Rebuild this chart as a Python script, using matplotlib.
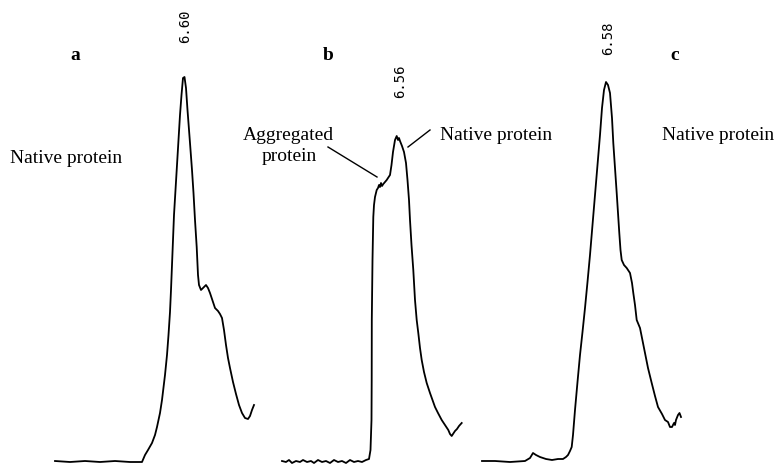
import matplotlib
matplotlib.use("Agg")
import matplotlib.pyplot as plt
from matplotlib.patches import Rectangle

# Trace a (x position, detector trace in image units, top = 0)
a_x = [55, 70, 85, 100, 115, 130, 142, 145, 148, 152, 155, 157, 160, 162, 165, 167, 168.5,
       170, 171, 172, 173, 174, 175.5, 177, 178.5, 180, 181.5, 183, 184.5, 186, 187.5, 190,
       192, 193.5, 195, 196.7, 198, 199, 201, 203, 206, 208, 210, 213, 215, 218, 220, 222,
       224, 226, 228, 230, 233, 236, 239, 242, 245, 248, 250, 252, 254]
a_y = [461, 462, 461, 462, 461, 462, 462, 455, 450, 443, 435, 427, 413, 400, 375, 355, 335,
       312, 290, 265, 240, 215, 190, 165, 140, 115, 95, 78, 77, 88, 110, 143,
       170, 193, 220, 247, 275, 285, 290, 288, 285, 288, 293, 302, 308, 311, 314, 318,
       330, 345, 358, 368, 382, 394, 405, 413, 418, 419, 416, 410, 405]

# Trace b
b_x = [282, 286, 289, 292, 296, 300, 303, 307, 311, 314, 318, 322, 326, 330, 334, 338, 342,
       346, 350, 354, 358, 362, 366, 369, 370.5, 371.5, 371.7, 371.8, 372.5, 373.3, 374, 375,
       376.7, 378, 379, 380, 381, 382, 383.3, 385, 386.7, 388, 390, 391.5, 393, 395, 396.7,
       398, 399, 400, 402, 404, 406, 407.5, 409, 410, 411.5, 413.3, 415, 416.7, 418.3, 420,
       421.7, 424, 426.7, 430, 432.5, 435, 438, 441.7, 445, 448.3, 450, 451.7, 453, 455, 457,
       459, 461.7]
b_y = [461, 462, 460, 463, 461, 462, 460, 462, 461, 463, 460, 462, 461, 463, 460, 462, 461,
       463, 460, 462, 461, 462, 460, 459, 450, 420, 380, 320, 260, 217, 205, 197,
       190, 188, 185, 187, 183, 186, 184, 182, 180, 178, 175, 165, 152, 140, 136,
       140, 138, 141, 146, 152, 163, 180, 200, 220, 245, 270, 300, 320, 333, 348,
       360, 372, 383, 393, 400, 407, 413, 420, 425, 430, 434, 436, 434, 431, 429,
       426, 423]

# Trace c
c_x = [482, 495, 510, 525, 530, 533, 536, 540, 546, 552, 558, 563, 566, 568, 570, 571.7, 573,
       575, 577.5, 580, 582.5, 585, 587.5, 590, 592.5, 595, 597.5, 600, 602, 604, 606, 608,
       610, 612, 613.3, 615, 616.7, 618, 619.3, 620.5, 621.7, 624, 626.7, 630, 632, 633.3,
       635, 636.7, 640, 645, 648, 651.7, 655, 658, 662, 665, 668, 670, 672, 674, 675, 676,
       678, 679.5, 681]
c_y = [461, 461, 462, 461, 458, 453, 455, 457, 459, 460, 459, 459, 457, 455, 451, 447, 435,
       410, 382, 355, 332, 308, 282, 255, 225, 195, 165, 135, 108, 90, 82, 85,
       93, 118, 143, 168, 193, 213, 233, 250, 260, 265, 268, 273, 283, 293,
       305, 320, 328, 353, 368, 383, 396, 407, 414, 420, 422, 427, 427, 423, 425, 420,
       415, 413, 417]

panel_labels = ["a", "b", "c"]
peak_labels = ["6.60", "6.56", "6.58"]

fig = plt.figure(figsize=(7.75, 4.66), dpi=100)
ax = fig.add_axes([0, 0, 1, 1])
ax.set_xlim(0, 775)
ax.set_ylim(466, 0)
ax.axis("off")

for xs, ys in [(a_x, a_y), (b_x, b_y), (c_x, c_y)]:
    ax.plot(xs, ys, color="black", lw=1.3, solid_joinstyle="round")

serif = "Liberation Serif"
# panel letters
for lab, (px, py) in zip(panel_labels, [(75, 55), (328, 55), (675, 55)]):
    ax.text(px, py, lab, fontfamily=serif, fontweight="bold", fontsize=14,
            ha="center", va="center")

# retention time labels
for lab, (px, py) in zip(peak_labels, [(185.5, 26.5), (400, 81), (608, 38)]):
    ax.text(px, py, lab, fontfamily="DejaVu Sans Mono", fontsize=10, rotation=90,
            ha="center", va="center")


def clipped_text(x, y, s, ha="left", clip=True):
    t = ax.text(x, y, s, fontfamily=serif, fontsize=14, ha=ha, va="baseline")
    if clip:
        rect = Rectangle((0, 0), 775, y + 1.5, transform=ax.transData)
        t.set_clip_path(rect)
    return t


clipped_text(10, 163, "Native protein")
clipped_text(440, 140, "Native protein")
clipped_text(662, 140, "Native protein")
clipped_text(288, 140, "Aggregated", ha="center", clip=False)
clipped_text(289, 161, "protein", ha="center", clip=False)

ax.plot([328, 377], [147, 177], color="black", lw=1.0)
ax.plot([430, 408], [130, 147], color="black", lw=1.0)

fig.savefig("out.png", dpi=100, facecolor="white")
